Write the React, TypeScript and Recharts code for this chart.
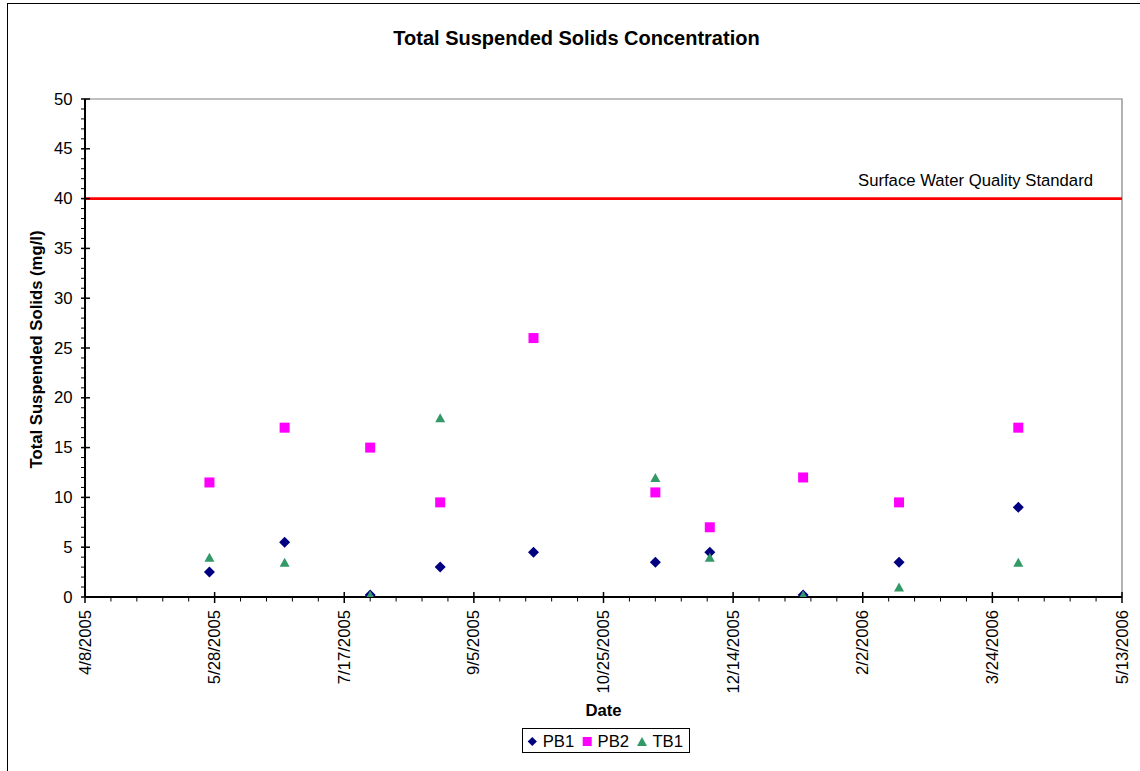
import React from 'react';
import { ScatterChart, Scatter, XAxis, YAxis, ReferenceLine, ReferenceArea, Legend } from 'recharts';

const chartTitle = 'Total Suspended Solids Concentration';
const xAxisTitle = 'Date';
const yAxisTitle = 'Total Suspended Solids (mg/l)';
const standardLabel = 'Surface Water Quality Standard';
const standardValue = 40;

const sampleDates = ['5/26/2005', '6/24/2005', '7/27/2005', '8/23/2005', '9/28/2005', '11/14/2005', '12/5/2005', '1/10/2006', '2/16/2006', '4/3/2006'];
const seriesNames = ['PB1', 'PB2', 'TB1'];
const pb1Values: (number | null)[] = [2.5, 5.5, 0.2, 3, 4.5, 3.5, 4.5, 0.2, 3.5, 9];
const pb2Values: (number | null)[] = [11.5, 17, 15, 9.5, 26, 10.5, 7, 12, 9.5, 17];
const tb1Values: (number | null)[] = [4, 3.5, 0.2, 18, null, 12, 4, 0.2, 1, 3.5];
const seriesColors = ['#000080', '#FF00FF', '#339966'];

const xTickLabels = ['4/8/2005', '5/28/2005', '7/17/2005', '9/5/2005', '10/25/2005', '12/14/2005', '2/2/2006', '3/24/2006', '5/13/2006'];
const yTickValues = [0, 5, 10, 15, 20, 25, 30, 35, 40, 45, 50];
const xMinorStepDays = 10;
const yMinorStep = 1;

const FONT = '"Liberation Sans", Arial, Helvetica, sans-serif';
const DAY = 86400000;

const parseDate = (s: string) => {
  const [m, d, y] = s.split('/').map(Number);
  return Date.UTC(y, m - 1, d);
};
const fmtDate = (t: number) => {
  const d = new Date(t);
  return `${d.getUTCMonth() + 1}/${d.getUTCDate()}/${d.getUTCFullYear()}`;
};

const xMajor = xTickLabels.map(parseDate);
const xMin = xMajor[0];
const xMax = xMajor[xMajor.length - 1];
const xAllTicks: number[] = [];
for (let t = xMin; t <= xMax + 1; t += xMinorStepDays * DAY) xAllTicks.push(t);
const yMin = yTickValues[0];
const yMax = yTickValues[yTickValues.length - 1];
const yAllTicks: number[] = [];
for (let v = yMin; v <= yMax; v += yMinorStep) yAllTicks.push(v);

const makeSeries = (vals: (number | null)[]) =>
  sampleDates
    .map((d, i) => ({ x: parseDate(d), y: vals[i] }))
    .filter((p) => p.y !== null && p.y !== undefined);

const pb1Data = makeSeries(pb1Values);
const pb2Data = makeSeries(pb2Values);
const tb1Data = makeSeries(tb1Values);

const Diamond = ({ cx, cy, fill, r = 5.5 }: any) => (
  <polygon points={`${cx},${cy - r} ${cx + r},${cy} ${cx},${cy + r} ${cx - r},${cy}`} fill={fill} />
);
const Square = ({ cx, cy, fill, s = 10 }: any) => (
  <rect x={cx - s / 2} y={cy - s / 2} width={s} height={s} fill={fill} />
);
const Triangle = ({ cx, cy, fill, w = 10, h = 9 }: any) => (
  <polygon points={`${cx},${cy - h / 2} ${cx + w / 2},${cy + h / 2} ${cx - w / 2},${cy + h / 2}`} fill={fill} />
);
const markerFor = (i: number, cx: number, cy: number, fill: string, legend = false) => {
  if (i === 0) return <Diamond cx={cx} cy={cy} fill={fill} r={legend ? 4.6 : 5.5} />;
  if (i === 1) return <Square cx={cx} cy={cy} fill={fill} s={legend ? 9 : 10} />;
  return <Triangle cx={cx} cy={cy} fill={fill} />;
};

const XTick = (props: any) => {
  const { x, y, payload } = props;
  const v = payload.value;
  const isMajor = xMajor.some((m) => Math.abs(m - v) < DAY / 2);
  if (!isMajor) return <line x1={x} x2={x} y1={y} y2={y + 4.5} stroke="#000" strokeWidth={1} />;
  return (
    <g>
      <line x1={x} x2={x} y1={y - 5} y2={y + 6} stroke="#000" strokeWidth={1.5} />
      <text
        transform={`translate(${x},${y + 13}) rotate(-90)`}
        textAnchor="end"
        dominantBaseline="central"
        fontSize={16.7}
        fontFamily={FONT}
        fill="#000"
      >
        {fmtDate(v)}
      </text>
    </g>
  );
};

const YTick = (props: any) => {
  const { x, y, payload } = props;
  const v = payload.value;
  const isMajor = yTickValues.includes(v);
  if (!isMajor) return <line x1={x - 4} x2={x} y1={y} y2={y} stroke="#000" strokeWidth={1} />;
  return (
    <g>
      <line x1={x - 4} x2={x + 5} y1={y} y2={y} stroke="#000" strokeWidth={1.5} />
      <text x={x - 12.5} y={y} textAnchor="end" dominantBaseline="central" fontSize={16.7} fontFamily={FONT} fill="#000">
        {v}
      </text>
    </g>
  );
};

const StandardLabel = (props: any) => {
  const vb = props.viewBox || { x: 0, y: 0, width: 0 };
  return (
    <text x={vb.x + vb.width - 29} y={vb.y - 12.5} textAnchor="end" fontSize={16.7} fontFamily={FONT} fill="#000">
      {standardLabel}
    </text>
  );
};

const legendItemX = [10.3, 65.2, 120];
const LegendBox = (props: any) => {
  const payload = props.payload || [];
  return (
    <svg width={168} height={25} style={{ display: 'block' }}>
      <rect x={0.5} y={0.5} width={167} height={24} fill="#fff" stroke="#000" strokeWidth={1} />
      {payload.map((entry: any, i: number) => (
        <g key={i}>
          {markerFor(i, legendItemX[i], 13.5, entry.color || seriesColors[i], true)}
          <text x={legendItemX[i] + 10.4} y={18.7} fontSize={16.7} fontFamily={FONT} fill="#000">
            {entry.value}
          </text>
        </g>
      ))}
    </svg>
  );
};

export default function App() {
  return (
    <div style={{ position: 'absolute', left: 0, top: 0, width: 1140, height: 771, background: '#fff', overflow: 'hidden' }}>
      <div
        style={{
          position: 'absolute',
          left: 7,
          top: 3,
          width: 1300,
          height: 1000,
          borderLeft: '1px solid #000',
          borderTop: '1px solid #000',
        }}
      />
      <div style={{ position: 'absolute', left: 0, top: 0 }}>
        <ScatterChart width={1140} height={771} margin={{ top: 99, right: 18, bottom: 0, left: 0 }}>
          <ReferenceArea x1={xMin} x2={xMax} y1={yMin} y2={yMax} fill="none" stroke="#808080" strokeWidth={1.2} ifOverflow="visible" />
          <XAxis
            type="number"
            dataKey="x"
            domain={[xMin, xMax]}
            ticks={xAllTicks}
            interval={0}
            tickSize={0}
            tickMargin={0}
            tickLine={false}
            tick={<XTick />}
            axisLine={{ stroke: '#000', strokeWidth: 2 }}
            height={174}
            allowDataOverflow
          />
          <YAxis
            type="number"
            dataKey="y"
            domain={[yMin, yMax]}
            ticks={yAllTicks}
            interval={0}
            tickSize={0}
            tickMargin={0}
            tickLine={false}
            tick={<YTick />}
            axisLine={{ stroke: '#000', strokeWidth: 2 }}
            width={85}
            allowDataOverflow
          />
          <ReferenceLine y={standardValue} stroke="#FF0000" strokeWidth={2.7} label={<StandardLabel />} ifOverflow="visible" />
          <Scatter
            name={seriesNames[0]}
            data={pb1Data}
            fill={seriesColors[0]}
            isAnimationActive={false}
            shape={(p: any) => markerFor(0, p.cx, p.cy, seriesColors[0])}
          />
          <Scatter
            name={seriesNames[1]}
            data={pb2Data}
            fill={seriesColors[1]}
            isAnimationActive={false}
            shape={(p: any) => markerFor(1, p.cx, p.cy, seriesColors[1])}
          />
          <Scatter
            name={seriesNames[2]}
            data={tb1Data}
            fill={seriesColors[2]}
            isAnimationActive={false}
            shape={(p: any) => markerFor(2, p.cx, p.cy, seriesColors[2])}
          />
          <Legend
            layout="horizontal"
            verticalAlign="middle"
            align="center"
            wrapperStyle={{ left: 522, top: 728, width: 168, height: 25, right: 'auto', bottom: 'auto' }}
            content={<LegendBox />}
          />
        </ScatterChart>
      </div>
      <svg width={1140} height={771} style={{ position: 'absolute', left: 0, top: 0, pointerEvents: 'none' }}>
        <text x={576.5} y={45} textAnchor="middle" fontSize={20} fontWeight="bold" fontFamily={FONT} fill="#000">
          {chartTitle}
        </text>
        <text
          transform="translate(41.5,349.5) rotate(-90)"
          textAnchor="middle"
          fontSize={16.7}
          fontWeight="bold"
          fontFamily={FONT}
          fill="#000"
        >
          {yAxisTitle}
        </text>
        <text x={603.5} y={716} textAnchor="middle" fontSize={16.7} fontWeight="bold" fontFamily={FONT} fill="#000">
          {xAxisTitle}
        </text>
      </svg>
    </div>
  );
}
